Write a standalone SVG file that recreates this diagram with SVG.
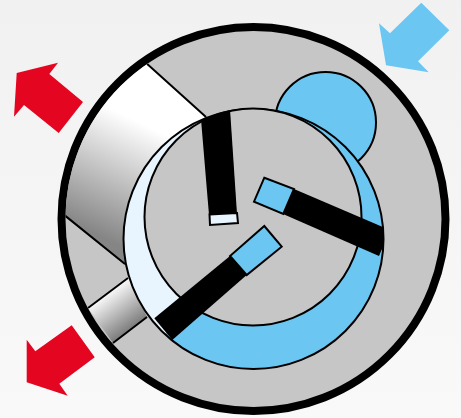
<svg xmlns="http://www.w3.org/2000/svg" width="461" height="418" viewBox="0 0 461 418">
<style>
.ln{stroke:#000;stroke-width:2;stroke-linejoin:miter}
.gray{fill:#c6c6c6}
.blue{fill:#6cc6f2}
.light{fill:#e8f5fe}
.red{fill:#e40521}
</style>
<defs>
<linearGradient id="bg" x1="0" y1="0" x2="0" y2="1"><stop offset="0" stop-color="#f1f1f1"/><stop offset="1" stop-color="#f9f9f9"/></linearGradient>
<linearGradient id="g1" gradientUnits="userSpaceOnUse" x1="130" y1="118" x2="78" y2="226"><stop offset="0" stop-color="#fff"/><stop offset="1" stop-color="#858585"/></linearGradient>
<linearGradient id="g2" gradientUnits="userSpaceOnUse" x1="103" y1="294" x2="131" y2="332"><stop offset="0" stop-color="#fff"/><stop offset="1" stop-color="#757575"/></linearGradient>
<clipPath id="inner"><circle cx="253.5" cy="219" r="188"/></clipPath>
<clipPath id="cav"><circle cx="253.5" cy="239" r="130"/></clipPath>
</defs>
<rect id="background" width="461" height="418" fill="url(#bg)"/>
<g id="housing"><circle cx="253.5" cy="219" r="192" class="gray" stroke="#000" stroke-width="8"/></g>
<g id="port-upper" clip-path="url(#inner)"><polygon points="146,62 206,117 190,125 150,170 125,265 62,214 40,150 100,60" fill="url(#g1)"/><path class="ln" fill="none" d="M145,62 L206,117 M63,214 L125,264"/></g>
<g id="port-lower" clip-path="url(#inner)"><polygon points="88,308 128,278 147,317 113,343" fill="url(#g2)"/><path class="ln" fill="none" d="M88,308 L128,278 M113,343 L147,317"/></g>
<g id="inlet-lobe"><circle cx="325.5" cy="122.5" r="50.5" class="blue ln"/></g>
<g id="cavity">
<circle cx="253.5" cy="239" r="130" class="blue"/>
<polygon clip-path="url(#cav)" class="light" points="225,100 100,100 100,320 165,335 200,285"/>
<circle cx="253.5" cy="239" r="130" fill="none" class="ln"/>
</g>
<g id="rotor"><circle cx="253" cy="217" r="108.5" class="gray ln"/></g>
<g id="vane-top">
<polygon clip-path="url(#cav)" points="199.4,100 229.4,100 237,214 209,215" fill="#000"/>
<polygon class="light ln" points="209.5,214.5 237,213 238,223 210,225"/>
</g>
<g id="vane-right">
<polygon class="blue ln" points="264.3,177.7 294,189 283.3,214 254,201.7"/>
<polygon clip-path="url(#cav)" points="294,189 390,230 379,256 283,214" fill="#000"/>
</g>
<g id="vane-lower">
<polygon class="blue ln" points="264.3,226 281.7,246.7 246.7,275 230,256"/>
<polygon points="230,256 246.7,275 172.3,340 154.3,318.3" fill="#000"/>
</g>
<g id="arrow-outlet-upper"><polygon class="red" points="16.7,73 58,62.7 49.3,74 83,102 58.7,133 24,105 14,116.7"/></g>
<g id="arrow-outlet-lower"><polygon class="red" points="26.7,339.7 35.3,351.3 71.7,325.3 94.7,357.3 59.3,383.7 67.7,395.7 26.7,382.3"/></g>
<g id="arrow-inlet"><polygon class="blue" points="379,23.3 390,33.3 421.3,2.7 449.3,30.3 418,61.3 428.7,72.3 386,65.3"/></g>
</svg>
